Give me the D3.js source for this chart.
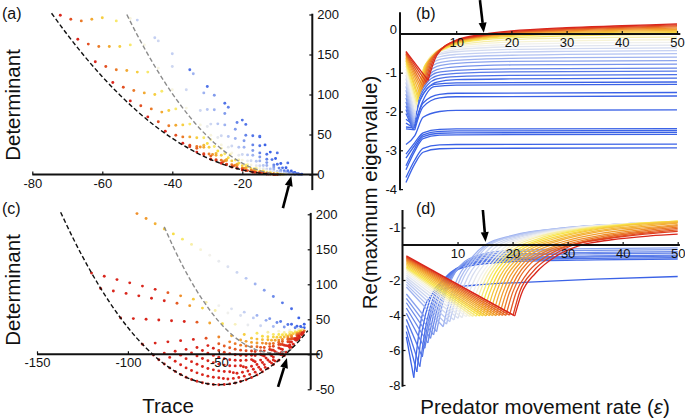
<!DOCTYPE html>
<meta charset="utf-8">
<style>
body { margin: 0; background: #fff; }
svg { display: block; }
svg text { font-family: "Liberation Sans", Arial, sans-serif; fill: #111; }
.tick text { font-size: 13px; }
.tick line { stroke: #111; stroke-width: 1.2; }
.title { font-size: 20.5px; }
.panel { font-size: 16px; }
</style>

<div id="fig"></div>

<script src="https://d3js.org/d3.v7.min.js"></script>
<script>

// colour ramp: 0 = blue (stable) ... 1 = red
var colorDomain = [0, 0.12, 0.28, 0.44, 0.58, 0.78, 1];
var colorRange = ["#3b62e6", "#6d8bea", "#bccaf3", "#f7f5ec", "#f8e448", "#f19a2d", "#d9261c"];

// tick values
var xTicksA = [-80, -60, -40, -20];
var yTicksA = [0, 50, 100, 150, 200];
var xTicksC = [-150, -100, -50];
var yTicksC = [-50, 0, 50, 100, 150, 200];
var xTicksB = [10, 20, 30, 40, 50];
var yTicksB = [0, -1, -2, -3, -4];
var xTicksD = [10, 20, 30, 40, 50];
var yTicksD = [1, -2, -4, -6, -8];
var yLabelsD = ["-1", "-2", "-4", "-6", "-8"];

// (a) trace / determinant, dashed boundaries
var blackA = [[-74.5,201.6],[-70,174.9],[-65,147.4],[-60,122.2],[-55,99.5],[-50,79],[-45,60.9],[-40,45.2],[-35,31.8],[-30,20.7],[-25,12],[-20,5.7],[-15,1.7],[-11,0.2],[-9,0]];
var greyA = [[-53,200],[-50,174.3],[-45,135.3],[-40,101.2],[-35,72],[-30,47.8],[-25,28.6],[-20,14.2],[-15,4.8],[-11,0.9],[-8,0]];

// (a) points, grouped by colour value
var dotsA = [
  {c: 0, pts: [[-15,47],[-13.5,37],[-12,28],[-10.5,20],[-9,13.7],[-7.5,8.5],[-6,4.5],[-5,2.5],[-4,1.1],[-3,0.3]]},
  {c: 0.05, pts: [[-35,131],[-30,110],[-25,89],[-20,68],[-15,48],[-10,27],[-7,14.5]]},
  {c: 0.05, pts: [[-19,62.6],[-17,48.4],[-15,36],[-13,25.4],[-11.5,18.6],[-10,12.9],[-8.5,8.3],[-7,4.7],[-5.5,2.1],[-4.5,0.9],[-3.5,0.2]]},
  {c: 0.1, pts: [[-24,84],[-21.5,65],[-19,49],[-17,37],[-15,27],[-13,19],[-11,12],[-9.5,8],[-8,4.8],[-6.5,2.3],[-5,0.8],[-4,0.2]]},
  {c: 0.16, pts: [[-28,99],[-25,76.3],[-22,56.5],[-19.5,42.2],[-17,30],[-15,21.8],[-13,14.9],[-11,9.3],[-9,5],[-7.5,2.6],[-6,1],[-5,0.4]]},
  {c: 0.22, pts: [[-34,126],[-31,102],[-28,81],[-25,62],[-22,45],[-19.5,34],[-17,24],[-15,17],[-13,11.3],[-11,6.9],[-9,3.5],[-7.5,1.7],[-6,0.6],[-5,0.1]]},
  {c: 0.27, pts: [[-30,81.3],[-27,63.3],[-24,47.5],[-21,34],[-18.5,24.5],[-16,16.5],[-14,11.3],[-12,7],[-10,3.8],[-8,1.5],[-6.5,0.5]]},
  {c: 0.3, pts: [[-50,193],[-45,171],[-40,151]]},
  {c: 0.33, pts: [[-44,167],[-40,135],[-36,106],[-32,80],[-29,63],[-26,48.5],[-23,35.6],[-20,25],[-17.5,17.2],[-15,11],[-13,7],[-11,4],[-9,1.8],[-7.5,0.7],[-6,0.1]]},
  {c: 0.39, pts: [[-30,60],[-27,46.2],[-24,34.2],[-21,24],[-18.5,16.9],[-16,11],[-14,7.2],[-12,4.2],[-10,2],[-8,0.6]]},
  {c: 0.45, pts: [[-52,195],[-48,162],[-44,133],[-40,106],[-36,83],[-32,62],[-29,49],[-26,37],[-23,27],[-20,18],[-17.5,12],[-15,7.5],[-13,4.5],[-11,2.3],[-9,0.8],[-7.5,0.2]]},
  {c: 0.5, pts: [[-29,43.5],[-26,32.7],[-23.5,24.9],[-21,18.1],[-18.5,12.4],[-16,7.8],[-14,4.8],[-12,2.6],[-10,1.05],[-8,0.2]]},
  {c: 0.55, pts: [[-56,192],[-52,162],[-47,128],[-43,104],[-39,82],[-35,63],[-31,46],[-28,35],[-25,26],[-22,18],[-19,11.5],[-16.5,7.2],[-14,3.9],[-12,2],[-10,0.7],[-8.5,0.2]]},
  {c: 0.6, pts: [[-30,38.8],[-27,29.3],[-24,21],[-21,14.2],[-18.5,9.5],[-16,5.7],[-14,3.4],[-12,1.7],[-10,0.57]]},
  {c: 0.64, pts: [[-60,196],[-55,160],[-50,128],[-45,100],[-41,80],[-37,62],[-33,46],[-29.5,34],[-26,24],[-23,17],[-20,11],[-17.5,7.1],[-15,4],[-13,2.1],[-11,0.9],[-9,0.2]]},
  {c: 0.69, pts: [[-31,36.5],[-27.5,26.3],[-24.5,18.9],[-21.5,12.8],[-19,8.5],[-16.5,5.2],[-14.5,3.1],[-12.5,1.5],[-10.5,0.5]]},
  {c: 0.74, pts: [[-63,194],[-58,160],[-53,130],[-48,102],[-43,78],[-39,61.5],[-35,47],[-31,34],[-27.5,24],[-24.5,17.4],[-21.5,11.7],[-19,7.7],[-16.5,4.6],[-14,2.3],[-12,1],[-10,0.3]]},
  {c: 0.79, pts: [[-32,34.4],[-28.5,25],[-25,17.1],[-22,11.5],[-19.5,7.7],[-17,4.7],[-15,2.8],[-13,1.4],[-11,0.46]]},
  {c: 0.84, pts: [[-66,192],[-61,160],[-56,131],[-51,105],[-46,82],[-41,61],[-37,47],[-33,35],[-29.5,25.6],[-26,17.8],[-23,12.2],[-20,7.7],[-17.5,4.7],[-15,2.5],[-13,1.2],[-11,0.4]]},
  {c: 0.88, pts: [[-33,32.9],[-29,23],[-25.5,15.7],[-22.5,10.6],[-20,7.1],[-17.5,4.3],[-15,2.2],[-13,1],[-11,0.28]]},
  {c: 0.92, pts: [[-69,194],[-64,163],[-59,135],[-54,109],[-49,86],[-44,66],[-39,49],[-35,36.5],[-31,26],[-27.5,18.5],[-24.5,13],[-21.5,8.4],[-18.5,4.9],[-16,2.6],[-14,1.4],[-12,0.5],[-10,0.1]]},
  {c: 0.96, pts: [[-35,34.8],[-31,24.8],[-27.5,17.5],[-24.5,12.2],[-21.5,7.9],[-19,5],[-16.5,2.76],[-14.5,1.45],[-12.5,0.55],[-10.5,0.08]]},
  {c: 1, pts: [[-72,199],[-67,169],[-62,141],[-57,115],[-52,92],[-47,72],[-42,54],[-37,39],[-33,28],[-29,19],[-26,14],[-23,9.3],[-20,5.6],[-17,2.9],[-15,1.5],[-13,0.6],[-11,0.1]]}
];

// (c) dashed boundaries
var blackC = [[-137,203],[-130,165],[-125,139.8],[-120,116.3],[-115,94.3],[-110,74],[-105,55.3],[-100,38.2],[-95,22.8],[-90,9],[-85,-3.3],[-80,-13.9],[-75,-22.8],[-70,-30.2],[-65,-35.9],[-60,-40],[-55,-42.5],[-50,-43.4],[-45,-42.7],[-40,-40.3],[-35,-36.3],[-30,-30.7],[-25,-23.5],[-20,-14.6],[-15,-4.2],[-10,7.9],[-5,21.6],[-1,33.8]];
var greyC = [[-80,182],[-75,153.3],[-70,127],[-65,103.3],[-60,82],[-55,63.3],[-50,47],[-45,33.3],[-40,22],[-35,13.3],[-30,7],[-25,3.3],[-20,2],[-15,3.3],[-10,7]];

// (c) points: trace, determinant, colour value
var dotsC = [
  [[-95,201,.8],[-90,194,.78],[-85,186.5,.72],[-80,179,.65],[-75,172,.6],[-70,164.5,.55],[-65,157,.5],[-60,149.5,.46],[-55,141.5,.43],[-50,133,.4],[-45,125,.36],[-40,117,.32],[-35,108.5,.27],[-30,100.5,.22],[-25,91.5,.17],[-20,82.5,.12],[-15,73.5,.07],[-10,65,.03],[-6,52,0],[-3,43,0]],
  [[-120,116,1],[-113,111.4,1],[-106,106.7,1],[-99,102.1,1],[-92,97.4,1],[-85,92.8,1],[-78,88.1,.9],[-71,83.5,.8],[-64,78.8,.65],[-57,74.2,.5],[-50,69.5,.42],[-43,64.9,.36],[-36,60.2,.3],[-29,55.6,.22],[-22,50.9,.15],[-16,46.9,.08],[-10,43,.03],[-5,39.7,0]],
  [[-115,94,1],[-108,90.5,1],[-101,87,1],[-94,83.5,1],[-87,80,1],[-80,76.5,1],[-73,73,.9],[-66,69.5,.78],[-59,66,.62],[-52,62.5,.5],[-45,59,.42],[-38,55.5,.36],[-31,52,.28],[-24,48.5,.2],[-18,45.5,.12],[-12,42.5,.06],[-7,40,.02],[-3,38,0]],
  [[-104,52,1],[-97,51,1],[-90,50,1],[-83,48.9,1],[-76,47.9,1],[-69,46.9,1],[-62,45.9,.9],[-55,44.8,.75],[-48,43.8,.6],[-41,42.8,.48],[-34,41.8,.4],[-27,40.8,.32],[-20,39.7,.24],[-14,38.9,.16],[-8,38,.08],[-4,37.4,.02]],
  [[-92,14.3,1],[-85,16,1],[-78,17.8,1],[-71,19.5,1],[-64,21.3,1],[-57,23,.92],[-50,24.8,.82],[-43,26.5,.72],[-36,28.2,.64],[-29,30,.56],[-23,31.5,.5],[-17,33,.46],[-11,34.5,.42],[-6,35.7,.38]],
  [[-86,-1,1],[-80,1.7,1],[-74,4.4,1],[-68,7,1],[-62,9.7,1],[-56,12.4,1],[-50,15.1,.9],[-44,17.8,.82],[-38,20.5,.74],[-32,23.1,.66],[-26,25.8,.6],[-20,28.5,.55],[-14,31.2,.5],[-8,33.9,.46],[-4,35.7,.42]],
  [[-83,-7.7,1],[-77,-4.4,1],[-71,-1.2,1],[-65,2.1,1],[-59,5.4,1],[-53,8.65,1],[-47,11.9,.9],[-41,15.2,.84],[-35,18.5,.76],[-29,21.7,.68],[-23,25,.62],[-17,28.3,.57],[-11,31.5,.52],[-6,34.3,.48]],
  [[-80,-13.9,1],[-74,-10,1],[-68,-6.2,1],[-62,-2.3,1],[-56,1.6,1],[-50,5.4,.95],[-44,9.3,.9],[-38,13.1,.84],[-32,17,.76],[-26,20.9,.68],[-20,24.7,.62],[-15,28,.58],[-10,31.2,.54],[-5,34.4,.5]],
  [[-77,-19.4,1],[-71,-14.9,1],[-65,-10.5,1],[-59,-6,1],[-53,-1.6,1],[-47,2.9,.95],[-41,7.3,.9],[-35,11.8,.85],[-29,16.2,.78],[-23,20.7,.7],[-18,24.4,.64],[-13,28.1,.6],[-8,31.8,.56],[-4,34.8,.52]],
  [[-74,-24.4,1],[-68,-19.4,1],[-62,-14.3,1],[-56,-9.3,1],[-50,-4.2,1],[-44,0.8,1],[-38,5.9,.92],[-32,10.9,.86],[-26,16,.8],[-21,20.2,.72],[-16,24.4,.66],[-11,28.3,.62],[-6,32.8,.57]],
  [[-71,-28.8,1],[-65,-23.2,1],[-59,-17.5,1],[-53,-11.9,1],[-47,-6.2,1],[-41,-0.6,1],[-35,5,.93],[-29,10.7,.87],[-24,15.4,.82],[-19,20.1,.75],[-14,24.8,.7],[-9,29.5,.65],[-5,33.2,.6]],
  [[-68,-32.7,1],[-62,-26.5,1],[-56,-20.2,1],[-50,-14,1],[-44,-7.7,1],[-38,-1.5,1],[-32,4.7,.95],[-27,9.9,.9],[-22,15.1,.85],[-17,20.3,.8],[-12,25.5,.74],[-7,30.7,.68]],
  [[-65,-35.9,1],[-59,-29.1,1],[-53,-22.2,1],[-47,-15.4,1],[-41,-8.6,1],[-35,-1.7,1],[-30,4,.96],[-25,9.7,.91],[-20,15.4,.86],[-15,21.1,.8],[-10,26.8,.75],[-5,32.4,.7]],
  [[-62,-38.6,1],[-56,-31.2,1],[-50,-23.7,1],[-44,-16.3,1],[-38,-8.9,1],[-32,-1.4,1],[-27,4.8,.96],[-22,11,.92],[-17,17.2,.87],[-12,23.4,.82],[-7,29.5,.76]],
  [[-59,-40.7,1],[-53,-32.7,1],[-47,-24.6,1],[-41,-16.6,1],[-35,-8.5,1],[-30,-1.8,1],[-25,4.9,.97],[-20,11.6,.93],[-15,18.3,.88],[-10,25,.83],[-5,31.7,.78]],
  [[-56,-42.2,1],[-50,-33.6,1],[-44,-24.9,1],[-38,-16.3,1],[-32,-7.6,1],[-27,-0.4,1],[-22,6.8,.97],[-17,14,.93],[-12,21.2,.88],[-7,28.4,.83]],
  [[-53,-43.1,1],[-47.5,-34.6,1],[-42,-26.2,1],[-36.5,-17.7,1],[-31,-9.2,1],[-26,-1.5,1],[-21,6.2,.98],[-16,13.9,.94],[-11,21.6,.9],[-6,29.3,.85]],
  [[-50,-43.4,1],[-45,-35.2,1],[-40,-27,1],[-35,-18.8,1],[-30,-10.6,1],[-25,-2.4,1],[-20,5.8,.98],[-15,14,.95],[-10,22.2,.91],[-6,28.8,.87]],
  [[-47,-43.1,1],[-42,-34.4,1],[-37,-25.7,1],[-32,-17,1],[-27,-8.3,1],[-22,0.4,1],[-17,9.1,.97],[-12,17.8,.94],[-7,26.5,.9],[-3,33.5,.86]],
  [[-44,-42.3,1],[-39,-33.1,1],[-34,-23.9,1],[-29,-14.6,1],[-24,-5.4,1],[-19,3.8,1],[-14,13,.97],[-9,22.2,.93],[-5,29.6,.9]],
  [[-41,-40.9,1],[-36,-31.2,1],[-31,-21.4,1],[-26,-11.7,1],[-21,-1.9,1],[-16,7.8,1],[-11,17.5,.96],[-6.5,26.3,.93]],
  [[-38,-38.9,1],[-33,-28.7,1],[-28,-18.4,1],[-23,-8.2,1],[-18,2.1,1],[-13,12.4,1],[-8,22.6,.96],[-4,30.8,.93]],
  [[-35,-36.3,1],[-30,-25.5,1],[-25,-14.7,1],[-20,-4,1],[-15,6.8,1],[-10,17.5,1],[-6,26.2,1]],
  [[-32,-33.1,1],[-27,-21.8,1],[-22,-10.5,1],[-17,0.8,1],[-12,12.1,1],[-8,21.1,1],[-4,30.2,1]],
  [[-29,-29.4,1],[-24.5,-18.7,1],[-20,-8.1,1],[-15.5,2.6,1],[-11,13.3,1],[-7,22.8,1],[-3.5,31,1]],
  [[-26,-25,1],[-21,-12.6,1],[-16,-0.2,1],[-11,12.2,1],[-7,22.1,1],[-4,29.6,1]],
  [[-23,-20.1,1],[-19,-9.7,1],[-15,0.7,1],[-11,11,1],[-7.5,20.1,1],[-4.5,27.9,1]],
  [[-20,-14.6,1],[-15,-1,1],[-11,9.8,1],[-7,20.7,1],[-4,28.9,1]],
  [[-17,-8.5,1],[-13,2.9,1],[-9,14.3,1],[-5.5,24.2,1]],
  [[-14,-1.9,1],[-10,10.1,1],[-6,22.1,1]]
];

// (b) Re(max eigenvalue) against epsilon: [epsilon, value]
var curvesB = [
  {c: 0, p: [[0.9,-2.2],[2.3,-2.35],[3.5,-1.7],[6,-1.3],[10,-1.26],[50,-1.24]]},
  {c: 0, p: [[0.9,-2.3],[2.3,-2.42],[3.6,-1.85],[6,-1.36],[10,-1.32],[50,-1.3]]},
  {c: 0, p: [[0.9,-2.4],[2.5,-2.42],[4,-1.78],[7,-1.56],[10,-1.53],[50,-1.51]]},
  {c: 0, p: [[0.9,-2.45],[2.5,-2.47],[4,-1.88],[7,-1.65],[10,-1.62],[50,-1.6]]},
  {c: 0, p: [[0.9,-2.85],[2.5,-2.62],[4,-2.15],[7,-2.0],[10,-1.97],[50,-1.96]]},
  {c: 0, p: [[0.9,-3.1],[2.5,-2.8],[4,-2.55],[7,-2.46],[10,-2.45],[50,-2.44]]},
  {c: 0, p: [[0.9,-3.2],[2.5,-2.87],[4,-2.6],[7,-2.51],[10,-2.5],[50,-2.49]]},
  {c: 0, p: [[0.9,-3.4],[2.5,-2.95],[4,-2.65],[7,-2.56],[10,-2.55],[50,-2.54]]},
  {c: 0, p: [[0.9,-3.5],[2.5,-3.02],[4,-2.7],[7,-2.61],[10,-2.6],[50,-2.59]]},
  {c: 0, p: [[0.9,-3.7],[2.5,-3.25],[4,-2.95],[7,-2.86],[10,-2.85],[50,-2.84]]},
  {c: 0, p: [[0.9,-3.83],[2.5,-3.35],[4,-3.05],[7,-2.96],[10,-2.95],[50,-2.94]]},
  {c: 0.02, p: [[0.9,-2.05],[2.15,-2.45],[3.3,-1.74],[6.5,-1.24],[10,-1.18],[20,-1.16],[50,-1.14]]},
  {c: 0.04, p: [[0.9,-1.95],[2.15,-2.44],[3.3,-1.66],[6.5,-1.16],[10,-1.1],[20,-1.07],[50,-1.05]]},
  {c: 0.07, p: [[0.9,-1.85],[2.2,-2.42],[3.3,-1.58],[6.5,-1.08],[10,-1.02],[20,-0.98],[50,-0.96]]},
  {c: 0.1, p: [[0.9,-1.75],[2.2,-2.4],[3.35,-1.5],[6.5,-1.0],[10,-0.94],[20,-0.9],[50,-0.88]]},
  {c: 0.14, p: [[0.9,-1.65],[2.25,-2.36],[3.4,-1.42],[6.5,-0.92],[10,-0.85],[20,-0.8],[30,-0.79],[50,-0.78]]},
  {c: 0.18, p: [[0.9,-1.55],[2.3,-2.32],[3.45,-1.34],[6.5,-0.84],[10,-0.76],[20,-0.71],[30,-0.7],[50,-0.69]]},
  {c: 0.22, p: [[0.9,-1.45],[2.35,-2.27],[3.5,-1.26],[6.5,-0.76],[10,-0.68],[20,-0.63],[30,-0.61],[50,-0.6]]},
  {c: 0.26, p: [[0.9,-1.35],[2.4,-2.22],[3.6,-1.18],[6.5,-0.68],[10,-0.6],[20,-0.55],[30,-0.53],[50,-0.51]]},
  {c: 0.3, p: [[0.9,-1.25],[2.45,-2.16],[3.7,-1.12],[6.5,-0.61],[10,-0.53],[20,-0.47],[30,-0.45],[50,-0.43]]},
  {c: 0.34, p: [[0.9,-1.15],[2.5,-2.1],[3.8,-1.06],[6.5,-0.55],[10,-0.46],[20,-0.4],[30,-0.38],[50,-0.36]]},
  {c: 0.38, p: [[0.9,-1.06],[2.55,-2.04],[3.9,-1.0],[7,-0.5],[10,-0.41],[20,-0.33],[30,-0.31],[50,-0.29]]},
  {c: 0.42, p: [[0.9,-0.98],[2.65,-1.97],[4,-0.95],[7,-0.45],[10,-0.36],[20,-0.27],[30,-0.24],[50,-0.22]]},
  {c: 0.46, p: [[0.9,-0.9],[2.75,-1.9],[4.1,-0.9],[7,-0.42],[10,-0.32],[15,-0.25],[20,-0.21],[30,-0.18],[40,-0.16],[50,-0.15]]},
  {c: 0.5, p: [[0.9,-0.82],[2.85,-1.82],[4.2,-0.86],[7,-0.4],[10,-0.29],[15,-0.2],[20,-0.15],[30,-0.11],[40,-0.09],[50,-0.08]]},
  {c: 0.55, p: [[0.9,-0.76],[2.95,-1.75],[4.3,-0.82],[10,-0.27],[15,-0.15],[20,-0.1],[30,-0.05],[40,-0.025],[50,-0.01]]},
  {c: 0.6, p: [[0.9,-0.7],[3.1,-1.68],[4.5,-0.78],[10,-0.25],[15,-0.12],[20,-0.06],[30,-0.01],[40,0.015],[50,0.03]]},
  {c: 0.65, p: [[0.9,-0.66],[3.2,-1.62],[4.7,-0.75],[10,-0.23],[15,-0.1],[20,-0.035],[30,0.02],[40,0.045],[50,0.06]]},
  {c: 0.7, p: [[0.9,-0.62],[3.4,-1.55],[4.9,-0.72],[10,-0.22],[15,-0.08],[20,-0.015],[30,0.04],[40,0.07],[50,0.09]]},
  {c: 0.75, p: [[0.9,-0.58],[3.6,-1.48],[5.1,-0.69],[10,-0.21],[15,-0.07],[20,0],[30,0.06],[40,0.095],[50,0.12]]},
  {c: 0.8, p: [[0.9,-0.55],[3.8,-1.42],[5.3,-0.66],[10,-0.2],[15,-0.06],[20,0.015],[30,0.08],[40,0.12],[50,0.15]]},
  {c: 0.85, p: [[0.9,-0.52],[4.0,-1.36],[5.6,-0.63],[10,-0.19],[15,-0.05],[20,0.03],[30,0.1],[40,0.145],[50,0.18]]},
  {c: 0.9, p: [[0.9,-0.5],[4.3,-1.3],[5.9,-0.6],[10,-0.18],[15,-0.04],[20,0.04],[30,0.12],[40,0.17],[50,0.21]]},
  {c: 0.95, p: [[0.9,-0.47],[4.6,-1.25],[6.2,-0.57],[10,-0.17],[15,-0.03],[20,0.055],[30,0.14],[40,0.19],[50,0.235]]},
  {c: 1, p: [[0.9,-0.45],[4.9,-1.2],[6.5,-0.55],[10,-0.16],[15,-0.01],[20,0.075],[30,0.16],[40,0.21],[50,0.26]]}
];

// (d) same quantity, second model
var curvesD = [
  {c: 0, p: [[0.7,-5.25],[2.05,-7.58],[3,-5.0],[4.5,-3.2],[7,-2.55],[13,-2.3],[22,-2.13],[35,-1.95],[50,-1.8]]},
  {c: 0.02, p: [[0.7,-4.95],[2.6,-7.25],[3.6,-4.85],[5,-3.1],[7.5,-1.95],[12,-1.2],[20,-0.95],[35,-0.85],[50,-0.8]]},
  {c: 0.04, p: [[0.7,-4.6],[3.15,-6.95],[4.2,-4.7],[5.6,-3.0],[8,-1.8],[12,-1.1],[20,-0.85],[35,-0.76],[50,-0.72]]},
  {c: 0.06, p: [[0.7,-4.25],[3.6,-6.4],[4.65,-4.45],[6,-2.9],[8.5,-1.7],[12.5,-1.02],[20,-0.78],[35,-0.68],[50,-0.64]]},
  {c: 0.08, p: [[0.7,-3.9],[4.05,-5.9],[5.1,-4.2],[6.5,-2.8],[9,-1.6],[13,-0.95],[20,-0.72],[35,-0.62],[50,-0.58]]},
  {c: 0.1, p: [[0.7,-3.6],[4.6,-5.6],[5.65,-4.0],[7,-2.65],[9.5,-1.5],[13.5,-0.82],[21,-0.6],[35,-0.5],[50,-0.46]]},
  {c: 0.12, p: [[0.7,-3.3],[5.1,-5.33],[6.2,-3.8],[7.6,-2.5],[10,-1.4],[14,-0.7],[22,-0.5],[35,-0.42],[50,-0.38]]},
  {c: 0.145, p: [[0.7,-3.05],[5.65,-5.14],[6.8,-3.5],[8.3,-2.2],[11,-1.1],[16,-0.52],[26,-0.33],[50,-0.26]]},
  {c: 0.17, p: [[0.7,-2.8],[6.2,-4.95],[7.4,-3.2],[9,-1.9],[12,-0.8],[18,-0.35],[30,-0.22],[50,-0.17]]},
  {c: 0.22, p: [[0.7,-2.4],[7.4,-4.67],[8.6,-3.1],[10,-1.9],[12,-0.95],[15,0],[20,0.55],[30,1.0],[40,1.2],[50,1.3]]},
  {c: 0.25, p: [[0.7,-2.25],[8.0,-4.52],[9.2,-3.0],[10.6,-1.85],[12.5,-0.95],[15.4,0],[20.5,0.55],[30,0.99],[40,1.2],[50,1.3]]},
  {c: 0.28, p: [[0.7,-2.1],[8.6,-4.38],[9.8,-2.9],[11.2,-1.8],[13,-0.95],[15.8,0],[21,0.55],[30,0.98],[40,1.2],[50,1.3]]},
  {c: 0.32, p: [[0.7,-1.97],[9.35,-4.28],[10.55,-2.85],[11.95,-1.78],[13.75,-0.95],[16.4,-0.05],[21.5,0.52],[30,0.96],[40,1.2],[50,1.31]]},
  {c: 0.35, p: [[0.7,-1.85],[10.1,-4.19],[11.3,-2.8],[12.7,-1.75],[14.5,-0.95],[17,-0.1],[22,0.5],[30,0.95],[40,1.2],[50,1.32]]},
  {c: 0.39, p: [[0.7,-1.72],[10.85,-4.15],[12.05,-2.78],[13.45,-1.75],[15.25,-0.95],[17.75,-0.12],[22.5,0.47],[30.5,0.95],[40,1.2],[50,1.33]]},
  {c: 0.42, p: [[0.7,-1.6],[11.6,-4.1],[12.8,-2.75],[14.2,-1.75],[16,-0.95],[18.5,-0.15],[23,0.45],[31,0.95],[40,1.2],[50,1.34]]},
  {c: 0.46, p: [[0.7,-1.5],[12.2,-4.09],[13.4,-2.75],[14.8,-1.75],[16.6,-0.95],[19.1,-0.17],[23.5,0.42],[31.5,0.93],[40,1.19],[50,1.35]]},
  {c: 0.5, p: [[0.7,-1.4],[12.8,-4.08],[14,-2.75],[15.4,-1.75],[17.2,-0.95],[19.7,-0.2],[24,0.4],[32,0.92],[40,1.18],[50,1.36]]},
  {c: 0.54, p: [[0.7,-1.32],[13.4,-4.07],[14.6,-2.75],[16,-1.75],[17.8,-0.95],[20.35,-0.22],[24.75,0.37],[32.5,0.9],[40,1.16],[50,1.36]]},
  {c: 0.58, p: [[0.7,-1.25],[14,-4.06],[15.2,-2.75],[16.6,-1.75],[18.4,-0.95],[21,-0.25],[25.5,0.35],[33,0.88],[40,1.15],[50,1.36]]},
  {c: 0.62, p: [[0.7,-1.17],[14.6,-4.05],[15.8,-2.75],[17.2,-1.75],[19,-0.96],[21.6,-0.27],[26.2,0.32],[33.5,0.85],[40,1.12],[50,1.35]]},
  {c: 0.66, p: [[0.7,-1.1],[15.2,-4.05],[16.4,-2.75],[17.8,-1.75],[19.6,-0.98],[22.2,-0.3],[27,0.3],[34,0.82],[40,1.08],[50,1.33]]},
  {c: 0.7, p: [[0.7,-1.02],[15.8,-4.045],[17,-2.75],[18.4,-1.75],[20.2,-0.99],[22.85,-0.32],[27.75,0.27],[34.5,0.77],[41,1.04],[50,1.29]]},
  {c: 0.73, p: [[0.7,-0.95],[16.4,-4.04],[17.6,-2.75],[19,-1.75],[20.8,-1],[23.5,-0.35],[28.5,0.25],[35,0.72],[42,1.0],[50,1.25]]},
  {c: 0.77, p: [[0.7,-0.9],[17,-4.035],[18.2,-2.75],[19.6,-1.76],[21.4,-1.01],[24.25,-0.37],[29.25,0.2],[36,0.66],[43,0.95],[50,1.17]]},
  {c: 0.8, p: [[0.7,-0.85],[17.6,-4.03],[18.8,-2.75],[20.2,-1.78],[22,-1.02],[25,-0.4],[30,0.15],[37,0.6],[44,0.9],[50,1.1]]},
  {c: 0.84, p: [[0.7,-0.8],[18.2,-4.025],[19.4,-2.73],[20.8,-1.79],[22.65,-1.03],[25.65,-0.42],[30.75,0.11],[37.5,0.55],[44.5,0.84],[50,1.02]]},
  {c: 0.87, p: [[0.7,-0.75],[18.8,-4.02],[20,-2.72],[21.4,-1.8],[23.3,-1.05],[26.3,-0.45],[31.5,0.08],[38,0.5],[45,0.78],[50,0.95]]},
  {c: 0.91, p: [[0.7,-0.71],[19.45,-4.01],[20.65,-2.7],[22.55,-1.66],[25.35,-0.81],[28.65,-0.22],[34,0.22],[41,0.56],[50,0.86]]},
  {c: 0.95, p: [[0.7,-0.67],[20.1,-4.0],[21.3,-2.67],[23.7,-1.52],[27.4,-0.57],[31,0],[37,0.35],[44,0.62],[50,0.78]]},
  {c: 1, p: [[0.7,-0.62],[20.4,-4.05],[21.6,-2.8],[24.2,-1.6],[28,-0.62],[32,-0.05],[38,0.3],[45,0.52],[50,0.62]]}
];

// arrows [tail, tip] in data units of each panel
var arrowA = [[-8.4,-42],[-6,-2]];
var arrowB = [[14.3,0.87],[15,0.03]];
var arrowC = [[-17.4,-46.7],[-12.5,-5.3]];
var arrowD = [[14.6,2.0],[15.1,0.17]];

var W = 685, H = 418;

var svg = d3.select("#fig")
  .append("svg")
    .attr("width", W)
    .attr("height", H);

var color = d3.scaleLinear()
  .domain(colorDomain)
  .range(colorRange)
  .clamp(true);

// scales
var xA = d3.scaleLinear().domain([-80, 0]).range([32.3, 312.3]);
var yA = d3.scaleLinear().domain([0, 200]).range([174.5, 14.5]);
var xC = d3.scaleLinear().domain([-150, 0]).range([37, 309.7]);
var yC = d3.scaleLinear().domain([-50, 200]).range([389.3, 214.3]);
var xB = d3.scaleLinear().domain([0, 50]).range([401, 677]);
var yB = d3.scaleLinear().domain([-4, 0]).range([189.1, 33.9]);
var xD = d3.scaleLinear().domain([0, 50]).range([402.5, 677.7]);
var yD = d3.scaleLinear().domain([-8, 0]).range([385, 245]);

// dotted scatter (a)
var gA = svg.append("g");
dotsA.forEach(function(b) {
  gA.append("g").selectAll("circle")
    .data(b.pts)
    .join("circle")
      .attr("cx", function(d) { return xA(d[0]); })
      .attr("cy", function(d) { return yA(d[1]); })
      .attr("r", 1.45)
      .attr("fill", color(b.c));
});

// dotted scatter (c)
var gC = svg.append("g");
dotsC.forEach(function(row) {
  gC.append("g").selectAll("circle")
    .data(row)
    .join("circle")
      .attr("cx", function(d) { return xC(d[0]); })
      .attr("cy", function(d) { return yC(d[1]); })
      .attr("r", 1.45)
      .attr("fill", function(d) { return color(d[2]); });
});

// dashed boundaries
function dashed(data, x, y, stroke) {
  var line = d3.line()
    .curve(d3.curveMonotoneX)
    .x(function(d) { return x(d[0]); })
    .y(function(d) { return y(d[1]); });
  svg.append("path")
    .attr("d", line(data))
    .attr("fill", "none")
    .attr("stroke", stroke)
    .attr("stroke-width", 1.4)
    .attr("stroke-dasharray", "4.5,2.5");
}
dashed(greyA, xA, yA, "#8c8c8c");
dashed(blackA, xA, yA, "#111");
dashed(greyC, xC, yC, "#8c8c8c");
dashed(blackC, xC, yC, "#111");

// eigenvalue curves: straight fall to the minimum, smooth rise after it
function drawCurves(curves, x, y) {
  var g = svg.append("g")
    .attr("fill", "none")
    .attr("stroke-width", 1.3)
    .attr("stroke-linejoin", "round");
  var fall = d3.line().x(function(d) { return x(d[0]); }).y(function(d) { return y(d[1]); });
  var rise = d3.line().curve(d3.curveMonotoneX)
    .x(function(d) { return x(d[0]); }).y(function(d) { return y(d[1]); });
  curves.slice().sort(function(a, b) { return a.c - b.c; }).forEach(function(cv) {
    var i = d3.minIndex(cv.p, function(d) { return d[1]; });
    var col = color(cv.c);
    if (i > 0) {
      g.append("path").attr("d", fall(cv.p.slice(0, i + 1))).attr("stroke", col);
    }
    g.append("path").attr("d", rise(cv.p.slice(i))).attr("stroke", col);
  });
}
drawCurves(curvesB, xB, yB);
drawCurves(curvesD, xD, yD);

// axes
function axisLine(x1, y1, x2, y2) {
  svg.append("line")
    .attr("x1", x1).attr("y1", y1).attr("x2", x2).attr("y2", y2)
    .attr("stroke", "#111")
    .attr("stroke-width", 2);
}
function stripDomain(g) { g.select(".domain").remove(); }
function plain(d) { return String(d); }

// (a)
axisLine(xA(-80), yA(0), xA(1.6), yA(0));
axisLine(xA(0), yA(201), xA(0), yA(-19.5));
svg.append("g")
  .attr("transform", "translate(0," + yA(0) + ")")
  .call(d3.axisBottom(xA).tickValues(xTicksA).tickFormat(plain).tickSize(-3).tickPadding(4))
  .call(stripDomain);
svg.append("g")
  .attr("transform", "translate(" + xA(0) + ",0)")
  .call(d3.axisRight(yA).tickValues(yTicksA).tickFormat(plain).tickSize(-3).tickPadding(5))
  .call(stripDomain);

// (c)
axisLine(xC(-150), yC(0), xC(5.5), yC(0));
axisLine(xC(0) + 1, yC(202), xC(0) + 1, yC(-50.5));
svg.append("g")
  .attr("transform", "translate(0," + yC(0) + ")")
  .call(d3.axisBottom(xC).tickValues(xTicksC).tickFormat(plain).tickSize(-3).tickPadding(3))
  .call(stripDomain);
svg.append("g")
  .attr("transform", "translate(" + (xC(0) + 1) + ",0)")
  .call(d3.axisRight(yC).tickValues(yTicksC).tickFormat(plain).tickSize(-3).tickPadding(5))
  .call(stripDomain);

// (b)
axisLine(xB(-0.2), yB(0), xB(50.6), yB(0));
axisLine(xB(0) - 1, yB(0.56), xB(0) - 1, yB(-4.03));
svg.append("g")
  .attr("transform", "translate(0," + yB(0) + ")")
  .call(d3.axisBottom(xB).tickValues(xTicksB).tickFormat(plain).tickSize(-3).tickPadding(4))
  .call(stripDomain);
svg.append("g")
  .attr("transform", "translate(" + (xB(0) - 1) + ",0)")
  .call(d3.axisLeft(yB).tickValues(yTicksB).tickFormat(plain).tickSize(-3).tickPadding(3))
  .call(stripDomain)
  .call(function(g) {
    g.selectAll(".tick text").filter(function(d) { return d === 0; }).attr("dy", "-0.05em");
  });

// (d)
axisLine(xD(-0.1), yD(0), xD(50.4), yD(0));
axisLine(xD(0), yD(2), xD(0), yD(-8.1));
svg.append("g")
  .attr("transform", "translate(0," + yD(0) + ")")
  .call(d3.axisBottom(xD).tickValues(xTicksD).tickFormat(plain).tickSize(-3).tickPadding(4))
  .call(stripDomain);
svg.append("g")
  .attr("transform", "translate(" + xD(0) + ",0)")
  .call(d3.axisLeft(yD).tickValues(yTicksD).tickSize(-3).tickPadding(2)
    .tickFormat(function(d, i) { return yLabelsD[i]; }))
  .call(stripDomain);

// arrows
function arrow(a, x, y) {
  var x1 = x(a[0][0]), y1 = y(a[0][1]), x2 = x(a[1][0]), y2 = y(a[1][1]);
  var ang = Math.atan2(y2 - y1, x2 - x1), L = 10, w = 4;
  var bx = x2 - L * Math.cos(ang), by = y2 - L * Math.sin(ang);
  svg.append("line")
    .attr("x1", x1).attr("y1", y1).attr("x2", bx).attr("y2", by)
    .attr("stroke", "#000").attr("stroke-width", 2.6);
  svg.append("path")
    .attr("d", "M" + x2 + "," + y2 +
      "L" + (bx + w * Math.sin(ang)) + "," + (by - w * Math.cos(ang)) +
      "L" + (bx - w * Math.sin(ang)) + "," + (by + w * Math.cos(ang)) + "Z")
    .attr("fill", "#000");
}
arrow(arrowA, xA, yA);
arrow(arrowB, xB, yB);
arrow(arrowC, xC, yC);
arrow(arrowD, xD, yD);

// panel letters
svg.append("text").attr("class", "panel").attr("x", 2).attr("y", 19).text("(a)");
svg.append("text").attr("class", "panel").attr("x", 416).attr("y", 19).text("(b)");
svg.append("text").attr("class", "panel").attr("x", 2).attr("y", 214).text("(c)");
svg.append("text").attr("class", "panel").attr("x", 416).attr("y", 214).text("(d)");

// axis titles
svg.append("text").attr("class", "title")
  .attr("transform", "translate(19.5,105)rotate(-90)")
  .style("text-anchor", "middle")
  .text("Determinant");
svg.append("text").attr("class", "title")
  .attr("transform", "translate(19.5,290)rotate(-90)")
  .style("text-anchor", "middle")
  .text("Determinant");
svg.append("text").attr("class", "title")
  .attr("transform", "translate(377,192.5)rotate(-90)")
  .style("text-anchor", "middle")
  .text("Re(maximum eigenvalue)");
svg.append("text").attr("class", "title")
  .attr("x", 168).attr("y", 413)
  .style("text-anchor", "middle")
  .text("Trace");
var xt = svg.append("text").attr("class", "title")
  .attr("x", 545).attr("y", 414)
  .style("text-anchor", "middle");
xt.append("tspan").text("Predator movement rate (");
xt.append("tspan").style("font-style", "italic").text("\u03b5");
xt.append("tspan").text(")");

</script>
